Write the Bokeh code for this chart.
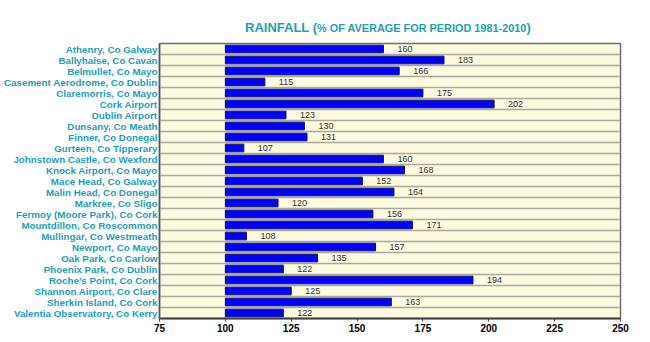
from bokeh.plotting import figure
from bokeh.models import ColumnDataSource, FactorRange, Range1d, FixedTicker, Div
from bokeh.layouts import column
from bokeh.core.properties import value
from bokeh.embed import file_html
from bokeh.resources import INLINE

stations = [
    "Athenry, Co Galway", "Ballyhaise, Co Cavan", "Belmullet, Co Mayo",
    "Casement Aerodrome, Co Dublin", "Claremorris, Co Mayo", "Cork Airport",
    "Dublin Airport", "Dunsany, Co Meath", "Finner, Co Donegal",
    "Gurteen, Co Tipperary", "Johnstown Castle, Co Wexford", "Knock Airport, Co Mayo",
    "Mace Head, Co Galway", "Malin Head, Co Donegal", "Markree, Co Sligo",
    "Fermoy (Moore Park), Co Cork", "Mountdillon, Co Roscommon", "Mullingar, Co Westmeath",
    "Newport, Co Mayo", "Oak Park, Co Carlow", "Phoenix Park, Co Dublin",
    "Roche\u2019s Point, Co Cork", "Shannon Airport, Co Clare", "Sherkin Island, Co Cork",
    "Valentia Observatory, Co Kerry",
]
rainfall_pct = [160, 183, 166, 115, 175, 202, 123, 130, 131, 107, 160, 168, 152,
                164, 120, 156, 171, 108, 157, 135, 122, 194, 125, 163, 122]
x_ticks = [75, 100, 125, 150, 175, 200, 225, 250]
baseline = 100
title_main = "RAINFALL"
title_sub = "% OF AVERAGE FOR PERIOD 1981-2010"

TEAL = "#1c9fb3"
FONT = "Liberation Sans"

n = len(stations)
src = ColumnDataSource(dict(
    name=stations,
    value=rainfall_pct,
    base=[baseline] * n,
    label=[str(v) for v in rainfall_pct],
))

header = Div(
    width=650, height=41, margin=(0, 0, 0, 0),
    text=(
        f'<div style="position:relative;width:650px;height:41px;">'
        f'<div style="position:absolute;left:245px;top:20px;white-space:nowrap;'
        f'font-family:\'{FONT}\';font-weight:bold;color:{TEAL};line-height:15px;">'
        f'<span style="font-size:13px">{title_main} (</span>'
        f'<span style="font-size:10.9px">{title_sub}</span>'
        f'<span style="font-size:13px">)</span></div></div>'
    ),
)

p = figure(
    width=650, height=301,
    y_range=FactorRange(factors=list(reversed(stations))),
    x_range=Range1d(x_ticks[0], x_ticks[-1]),
    output_backend="svg", toolbar_location=None,
    min_border_left=158, min_border_right=30, min_border_top=2, min_border_bottom=24,
    margin=(0, 0, 0, 0),
)
p.title.visible = False
p.background_fill_color = "#fdfbdf"
p.border_fill_color = "white"
p.outline_line_color = "#6e6e6e"
p.outline_line_width = 1.5

p.hbar(y="name", left="base", right="value", height=0.7, source=src,
       fill_color="#0000ff", line_color="#10105a", line_width=1)
p.text(x="value", y="name", text="label", source=src, x_offset=14,
       text_baseline="middle", text_align="left", text_font_size="9px",
       text_color="#333333", text_font=value(FONT))

# grid lines between rows
p.xgrid.visible = False
p.ygrid.ticker = FixedTicker(ticks=list(range(1, n)))
p.ygrid.grid_line_color = "#aaa99c"
p.ygrid.grid_line_width = 1.3

p.xaxis.ticker = FixedTicker(ticks=x_ticks)
p.xaxis.major_label_text_font = FONT
p.xaxis.major_label_text_font_style = "bold"
p.xaxis.major_label_text_font_size = "10px"
p.xaxis.major_label_text_color = "black"
p.xaxis.axis_line_color = "#444444"
p.xaxis.axis_line_width = 2
p.xaxis.major_tick_out = 3
p.xaxis.major_tick_in = 0
p.xaxis.major_tick_line_color = "#444444"
p.xaxis.minor_tick_line_color = None
p.xaxis.major_label_standoff = 2

p.yaxis.major_label_text_font = FONT
p.yaxis.major_label_text_font_style = "bold"
p.yaxis.major_label_text_font_size = "9.8px"
p.yaxis.major_label_text_color = TEAL
p.yaxis.axis_line_color = "#555555"
p.yaxis.axis_line_width = 1.5
p.yaxis.major_tick_line_color = None
p.yaxis.minor_tick_line_color = None
p.yaxis.major_tick_out = 0
p.yaxis.major_tick_in = 0
p.yaxis.major_label_standoff = 2

layout = column(header, p, spacing=0, margin=(0, 0, 0, 0))
open("out.html", "w").write(file_html(layout, INLINE))
